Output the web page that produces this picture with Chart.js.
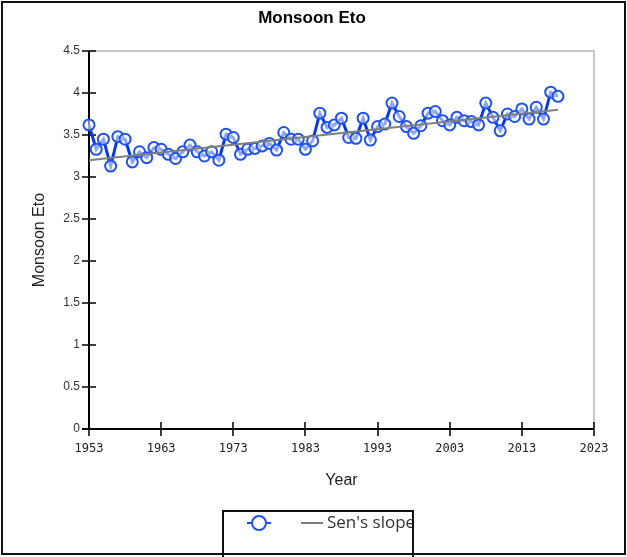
<!DOCTYPE html>
<html lang="en">
<head>
  <meta charset="UTF-8" />
  <title>Monsoon Eto</title>
  <script src="https://cdn.jsdelivr.net/npm/chart.js"></script>
  <style>
    html, body { margin: 0; padding: 0; background: #fff; }
    #box { width: 627px; height: 557px; }
  </style>
</head>
<body>
  <div id="box"><canvas id="grafico"></canvas></div>

  <script>
    const years = [1953, 1954, 1955, 1956, 1957, 1958, 1959, 1960, 1961, 1962,
                   1963, 1964, 1965, 1966, 1967, 1968, 1969, 1970, 1971, 1972,
                   1973, 1974, 1975, 1976, 1977, 1978, 1979, 1980, 1981, 1982,
                   1983, 1984, 1985, 1986, 1987, 1988, 1989, 1990, 1991, 1992,
                   1993, 1994, 1995, 1996, 1997, 1998, 1999, 2000, 2001, 2002,
                   2003, 2004, 2005, 2006, 2007, 2008, 2009, 2010, 2011, 2012,
                   2013, 2014, 2015, 2016, 2017, 2018];
    const eto = [3.62, 3.33, 3.45, 3.13, 3.48, 3.45, 3.18, 3.30, 3.23, 3.35,
                 3.33, 3.27, 3.22, 3.30, 3.38, 3.30, 3.25, 3.30, 3.20, 3.51,
                 3.47, 3.27, 3.33, 3.34, 3.37, 3.40, 3.32, 3.53, 3.45, 3.45,
                 3.33, 3.43, 3.76, 3.59, 3.62, 3.70, 3.47, 3.46, 3.70, 3.44,
                 3.60, 3.63, 3.88, 3.72, 3.60, 3.52, 3.61, 3.76, 3.78, 3.67,
                 3.62, 3.71, 3.67, 3.66, 3.62, 3.88, 3.71, 3.55, 3.75, 3.72,
                 3.81, 3.69, 3.83, 3.69, 4.01, 3.96];
    // Sen's slope trend line, end points
    const senYears = [1953, 2018];
    const senValues = [3.20, 3.80];
    const xTickValues = [1953, 1963, 1973, 1983, 1993, 2003, 2013, 2023];

    const BLUE_LINE = '#0838e0';
    const BLUE_MARK = '#1f52ee';
    const GRAY = '#7f7f7f';

    // axes with ticks crossing the line, grey frame top/right
    const ejes = {
      id: 'ejes',
      beforeDatasetsDraw(chart) {
        const { ctx, chartArea: a, scales: { x, y } } = chart;
        ctx.save();
        ctx.strokeStyle = '#c8c8c8';
        ctx.lineWidth = 2;
        ctx.beginPath();
        ctx.moveTo(a.left, a.top);
        ctx.lineTo(a.right, a.top);
        ctx.lineTo(a.right, a.bottom);
        ctx.stroke();

        ctx.strokeStyle = '#000';
        ctx.lineWidth = 2;
        ctx.beginPath();
        ctx.moveTo(a.left, a.top);
        ctx.lineTo(a.left, a.bottom);
        ctx.moveTo(a.left - 7, a.bottom);
        ctx.lineTo(a.right, a.bottom);
        ctx.stroke();

        ctx.lineWidth = 1.5;
        ctx.beginPath();
        y.ticks.forEach(t => {
          const py = Math.round(y.getPixelForValue(t.value));
          ctx.moveTo(a.left - 7, py);
          ctx.lineTo(a.left + 7, py);
        });
        x.ticks.forEach(t => {
          const px = Math.round(x.getPixelForValue(t.value));
          ctx.moveTo(px, a.bottom - 7);
          ctx.lineTo(px, a.bottom + 7);
        });
        ctx.stroke();
        ctx.restore();
      },
      afterDraw(chart) {
        const { ctx } = chart;
        ctx.save();
        // legend
        ctx.lineWidth = 2;
        ctx.strokeStyle = BLUE_MARK;
        ctx.beginPath();
        ctx.moveTo(247, 523);
        ctx.lineTo(271, 523);
        ctx.stroke();
        ctx.beginPath();
        ctx.arc(259, 523, 7, 0, Math.PI * 2);
        ctx.fillStyle = '#fff';
        ctx.fill();
        ctx.stroke();
        ctx.strokeStyle = GRAY;
        ctx.beginPath();
        ctx.moveTo(301, 523);
        ctx.lineTo(323, 523);
        ctx.stroke();
        ctx.fillStyle = '#333';
        ctx.font = '17px "Open Sans"';
        ctx.textBaseline = 'middle';
        ctx.fillText("Sen's slope", 327, 523);

        ctx.strokeStyle = '#111';
        ctx.lineWidth = 2;
        ctx.beginPath();
        ctx.moveTo(223, 557);
        ctx.lineTo(223, 511);
        ctx.lineTo(413, 511);
        ctx.lineTo(413, 557);
        ctx.stroke();

        // outer frame
        ctx.strokeRect(2, 2, 623, 552);
        ctx.restore();
      }
    };

    new Chart(document.getElementById('grafico'), {
      type: 'line',
      data: {
        datasets: [
          {
            label: "Sen's slope",
            data: senYears.map((yr, i) => ({ x: yr, y: senValues[i] })),
            borderColor: GRAY,
            borderWidth: 2,
            pointRadius: 0,
            fill: false,
            clip: false
          },
          {
            label: 'Monsoon Eto',
            data: years.map((yr, i) => ({ x: yr, y: eto[i] })),
            borderColor: BLUE_LINE,
            borderWidth: 3,
            pointRadius: 5.5,
            pointBorderWidth: 2,
            pointBorderColor: BLUE_MARK,
            pointBackgroundColor: 'rgba(255,255,255,0.55)',
            tension: 0,
            fill: false,
            clip: false
          }
        ]
      },
      options: {
        responsive: true,
        maintainAspectRatio: false,
        animation: false,
        layout: { padding: { left: 30, right: 33, top: 0, bottom: 58 } },
        plugins: {
          legend: { display: false },
          tooltip: { enabled: false },
          title: {
            display: true,
            text: 'Monsoon Eto',
            color: '#000',
            font: { family: 'Liberation Sans', size: 17, weight: 'bold' },
            padding: { top: 8, bottom: 22.6 }
          }
        },
        scales: {
          x: {
            type: 'linear',
            min: 1953,
            max: 2023,
            afterBuildTicks: s => { s.ticks = xTickValues.map(v => ({ value: v })); },
            afterFit: s => { s.height = 70; },
            grid: { display: false, drawTicks: false },
            border: { display: false },
            ticks: {
              autoSkip: false,
              maxRotation: 0,
              padding: 13,
              color: '#222',
              font: { family: 'DejaVu Sans Mono', size: 12 },
              callback: v => String(v)
            },
            title: {
              display: true,
              text: 'Year',
              color: '#222',
              font: { family: 'Liberation Sans', size: 16 },
              padding: { top: 0, bottom: 9 }
            }
          },
          y: {
            min: 0,
            max: 4.5,
            afterFit: s => { s.width = 59; },
            grid: { display: false, drawTicks: false },
            border: { display: false },
            ticks: {
              stepSize: 0.5,
              padding: 9,
              color: '#333',
              font: { family: 'Liberation Sans', size: 12 },
              callback: v => String(v)
            },
            title: {
              display: true,
              text: 'Monsoon Eto',
              color: '#222',
              font: { family: 'Liberation Sans', size: 16 },
              padding: 0
            }
          }
        }
      },
      plugins: [ejes]
    });
  </script>
</body>
</html>
